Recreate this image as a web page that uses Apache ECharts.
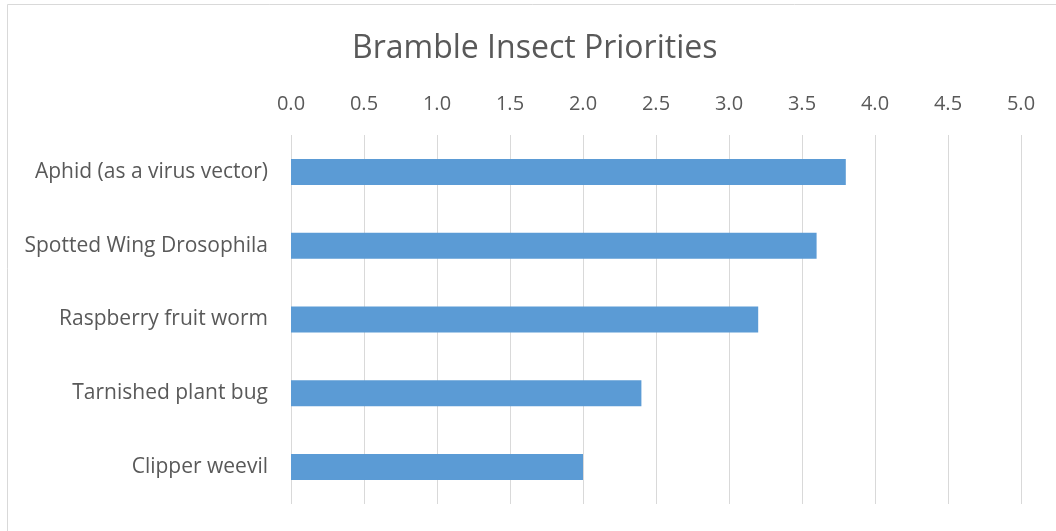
<!DOCTYPE html>
<html>
<head>
<meta charset="utf-8">
<script src="https://cdn.jsdelivr.net/npm/echarts@6/dist/echarts.min.js"></script>
<style>
  html, body { margin: 0; padding: 0; background: #fff; }
  #chart { width: 1056px; height: 531px; }
</style>
</head>
<body>
<div id="chart"></div>
<script>
// Pest priority scores for bramble crops
const categories = [
  'Aphid (as a virus vector)',
  'Spotted Wing Drosophila',
  'Raspberry fruit worm',
  'Tarnished plant bug',
  'Clipper weevil'
];
const scores = [3.8, 3.6, 3.2, 2.4, 2.0];

const FONT = '"Open Sans", sans-serif';
const TEXT = '#595959';

const chart = echarts.init(document.getElementById('chart'));
chart.setOption({
  animation: false,
  backgroundColor: '#fff',
  title: {
    text: 'Bramble Insect Priorities',
    left: 347,
    top: 28,
    textStyle: { fontFamily: FONT, fontSize: 32, fontWeight: 'normal', color: TEXT }
  },
  graphic: [{
    type: 'rect',
    shape: { x: 7.5, y: 4.5, width: 1200, height: 800 },
    style: { fill: 'none', stroke: '#d9d9d9', lineWidth: 1 },
    silent: true
  }],
  grid: { left: 291, right: 35, top: 135, bottom: 27, containLabel: false },
  xAxis: {
    type: 'value',
    position: 'top',
    min: 0,
    max: 5,
    interval: 0.5,
    axisLine: { show: false },
    axisTick: { show: false },
    axisLabel: {
      fontFamily: FONT, fontSize: 20, color: TEXT, margin: 21,
      formatter: v => v.toFixed(1)
    },
    splitLine: { show: true, lineStyle: { color: '#d9d9d9', width: 1 } }
  },
  yAxis: {
    type: 'category',
    inverse: true,
    data: categories,
    axisLine: { show: false },
    axisTick: { show: false },
    axisLabel: { fontFamily: FONT, fontSize: 21, color: TEXT, margin: 23 }
  },
  series: [{
    type: 'bar',
    data: scores,
    barWidth: 26,
    itemStyle: { color: '#5b9bd5' }
  }]
});
</script>
</body>
</html>
